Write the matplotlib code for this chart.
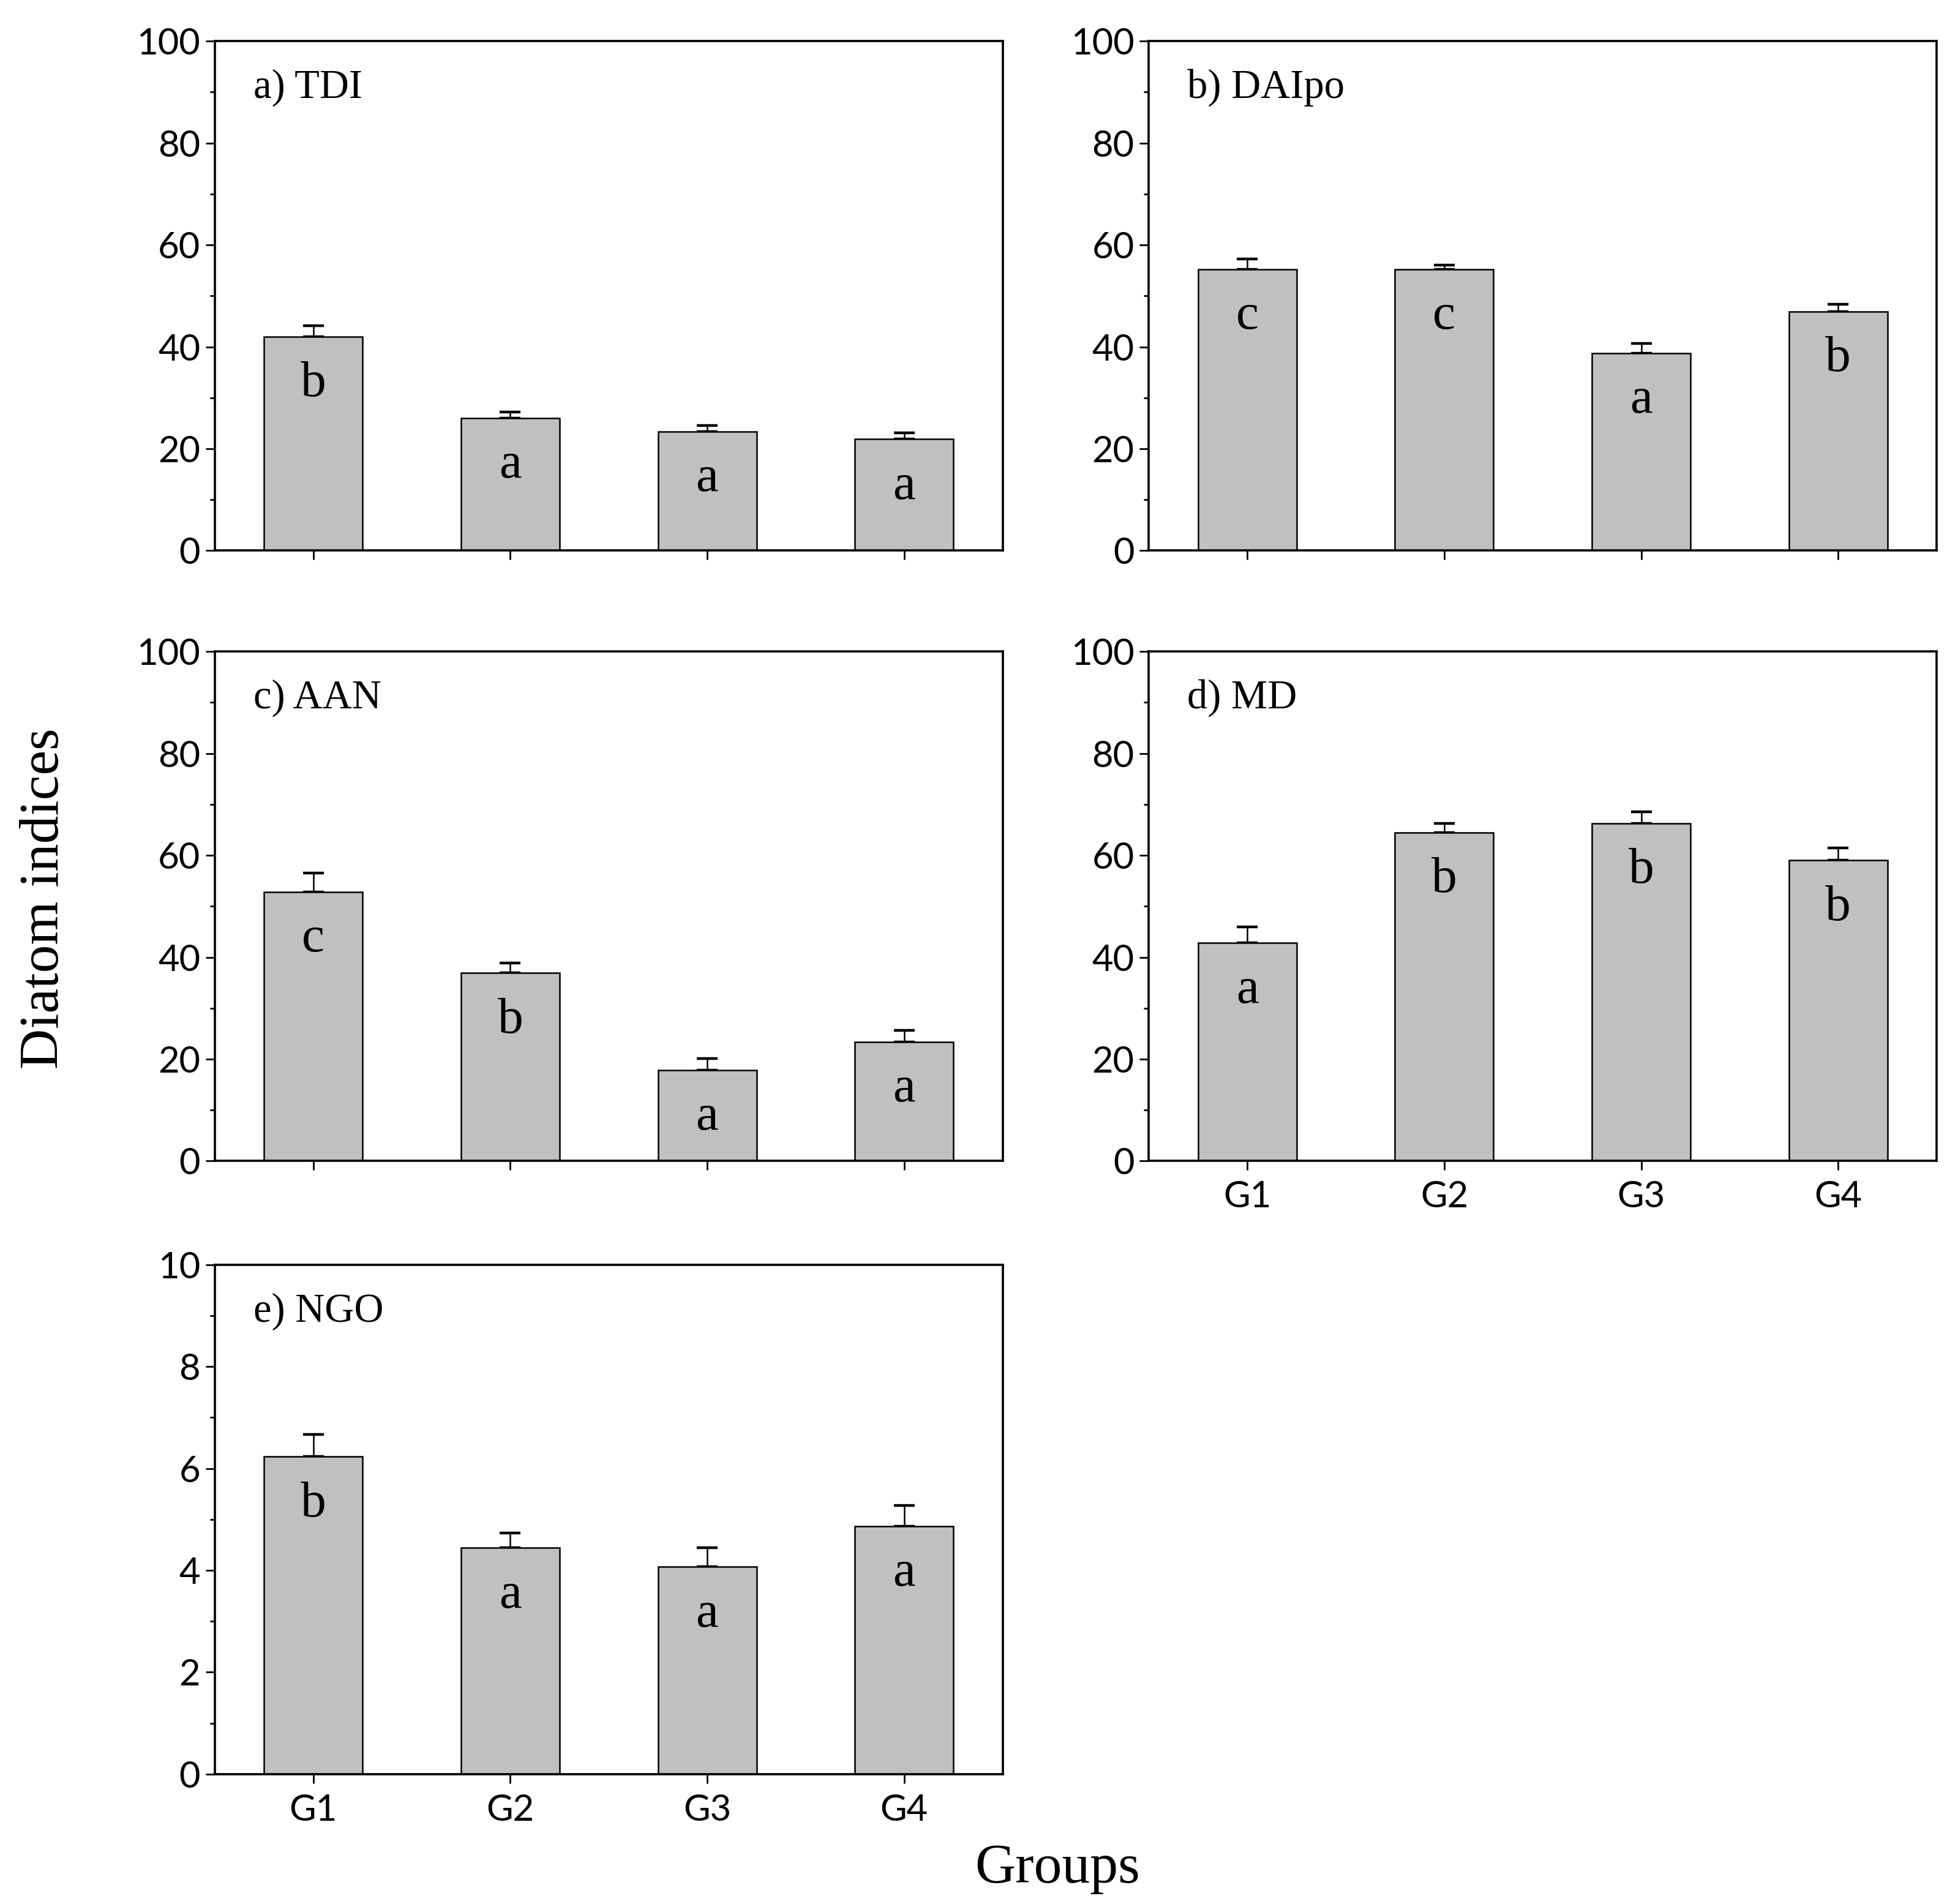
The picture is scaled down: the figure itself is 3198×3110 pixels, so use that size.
"""Diatom indices per group: five bar panels with SE bars and significance letters."""

import matplotlib

matplotlib.use("Agg")
import matplotlib.pyplot as plt
from matplotlib.ticker import FormatStrFormatter, MultipleLocator


GROUPS = ["G1", "G2", "G3", "G4"]

TDI = [42.0, 26.0, 23.4, 21.9]
TDI_ERR = [2.2, 1.2, 1.2, 1.2]
TDI_LETTERS = ["b", "a", "a", "a"]

DAIPO = [55.2, 55.2, 38.8, 46.9]
DAIPO_ERR = [2.0, 0.9, 1.9, 1.5]
DAIPO_LETTERS = ["c", "c", "a", "b"]

AAN = [52.8, 36.9, 17.9, 23.4]
AAN_ERR = [3.7, 2.0, 2.2, 2.3]
AAN_LETTERS = ["c", "b", "a", "a"]

MD = [42.8, 64.5, 66.3, 59.0]
MD_ERR = [3.1, 1.8, 2.2, 2.5]
MD_LETTERS = ["a", "b", "b", "b"]

NGO = [6.23, 4.44, 4.07, 4.87]
NGO_ERR = [0.44, 0.29, 0.37, 0.40]
NGO_LETTERS = ["b", "a", "a", "a"]

SERIF = "Liberation Serif"
SANS = "Lato"

plt.rcParams["font.family"] = SANS
plt.rcParams["axes.linewidth"] = 1.3


def draw_panel(ax, title, values, errs, letters, ymax, show_xlabels):
    x = list(range(1, len(GROUPS) + 1))
    ax.errorbar(x, values, yerr=[[0] * len(errs), errs], fmt="none",
                ecolor="black", elinewidth=0.9, capsize=6, capthick=1.6, zorder=1)
    ax.bar(x, values, width=0.5, color="#c0c0c0", edgecolor="black",
           linewidth=0.9, zorder=2)

    offset = ymax * 0.117
    for xi, v, letter in zip(x, values, letters):
        ax.text(xi, v - offset, letter, ha="center", va="baseline",
                fontsize=30, family=SERIF, zorder=3)

    ax.text(0.049, 0.889, title, transform=ax.transAxes, ha="left",
            va="baseline", fontsize=24, family=SERIF)

    ax.set_xlim(0.5, 4.5)
    ax.set_ylim(0, ymax)
    ax.yaxis.set_major_locator(MultipleLocator(ymax / 5))
    ax.yaxis.set_minor_locator(MultipleLocator(ymax / 10))
    ax.yaxis.set_major_formatter(FormatStrFormatter("%d"))
    ax.set_xticks(x)
    if show_xlabels:
        ax.set_xticklabels(GROUPS)
    else:
        ax.set_xticklabels([])
    ax.tick_params(axis="both", which="major", direction="out", length=5.5,
                   width=1.0, labelsize=21.5, pad=3)
    ax.tick_params(axis="x", which="major", pad=6)
    ax.tick_params(axis="y", which="minor", direction="out", length=3, width=1.0)
    ax.tick_params(axis="x", which="minor", bottom=False)


def main():
    fig = plt.figure(figsize=(15.99, 15.55), dpi=200)

    w, h = 0.4024, 0.2676
    col = [0.1097, 0.5867]
    row = [0.7108, 0.3902, 0.0682]

    panels = [
        ((col[0], row[0]), "a) TDI", TDI, TDI_ERR, TDI_LETTERS, 100, False),
        ((col[1], row[0]), "b) DAIpo", DAIPO, DAIPO_ERR, DAIPO_LETTERS, 100, False),
        ((col[0], row[1]), "c) AAN", AAN, AAN_ERR, AAN_LETTERS, 100, False),
        ((col[1], row[1]), "d) MD", MD, MD_ERR, MD_LETTERS, 100, True),
        ((col[0], row[2]), "e) NGO", NGO, NGO_ERR, NGO_LETTERS, 10, True),
    ]
    for (left, bottom), title, vals, errs, letters, ymax, show in panels:
        ax = fig.add_axes([left, bottom, w, h])
        draw_panel(ax, title, vals, errs, letters, ymax, show)

    fig.text(0.0228, 0.528, "Diatom indices", rotation=90, ha="center",
             va="center", fontsize=33, family=SERIF)
    fig.text(0.540, 0.0113, "Groups", ha="center", va="baseline",
             fontsize=33, family=SERIF)

    fig.savefig("out.png", dpi=200)
    plt.close(fig)


if __name__ == "__main__":
    main()
